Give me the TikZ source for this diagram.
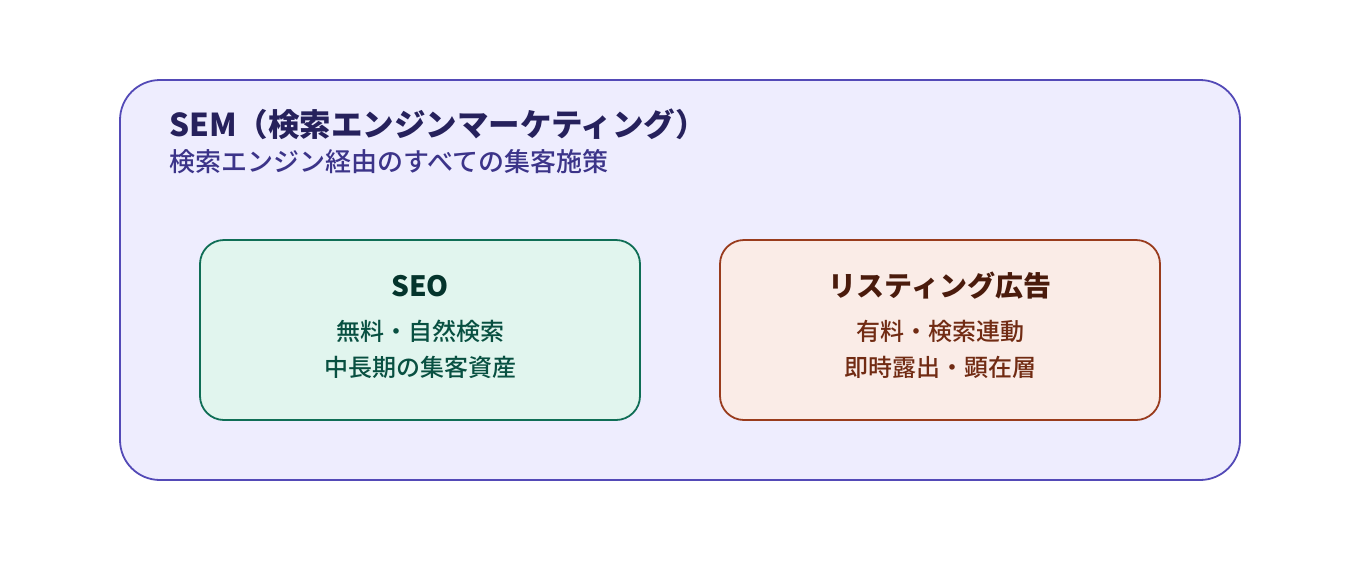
\documentclass[tikz,border=0pt]{standalone}
\usepackage{fontspec}
\setmainfont{Noto Sans CJK JP}
\newfontfamily\jpmed{Noto Sans CJK JP Medium}
\definecolor{outerfill}{HTML}{EEEDFE}
\definecolor{outerdraw}{HTML}{534AB7}
\definecolor{titlecol}{HTML}{26215C}
\definecolor{subcol}{HTML}{3C3489}
\definecolor{gfill}{HTML}{E1F5EE}
\definecolor{gdraw}{HTML}{0F6E56}
\definecolor{ghead}{HTML}{04342C}
\definecolor{gtext}{HTML}{085041}
\definecolor{cfill}{HTML}{FAECE7}
\definecolor{cdraw}{HTML}{993C1D}
\definecolor{chead}{HTML}{4A1B0C}
\definecolor{ctext}{HTML}{712B13}
\tikzset{
  boxhead/.style={font=\bfseries\fontsize{28}{28}\selectfont, anchor=base, inner sep=0pt},
  boxline/.style={font=\jpmed\fontsize{24}{24}\selectfont, anchor=base, inner sep=0pt},
}
\begin{document}
\begin{tikzpicture}[x=1pt,y=-1pt]
\useasboundingbox (0,0) rectangle (1360,560);
\fill[white] (0,0) rectangle (1360,560);
% outer container
\draw[outerdraw, fill=outerfill, line width=1.8pt, rounded corners=40pt] (120,80) rectangle (1240,480);
\node[anchor=base west, inner sep=0pt, text=titlecol, font=\bfseries\fontsize{31.5}{31.5}\selectfont] (title) at (169,136) {SEM（検索エンジンマーケティング）};
\node[anchor=base west, inner sep=0pt, text=subcol, font=\jpmed\fontsize{26}{26}\selectfont] (sub) at (169,171) {検索エンジン経由のすべての集客施策};
% SEO box
\draw[gdraw, fill=gfill, line width=1.8pt, rounded corners=24pt] (200,240) rectangle (640,420);
\node[boxhead, text=ghead] (seo) at (420,296) {SEO};
\node[boxline, text=gtext] (seo1) at (420,340) {無料・自然検索};
\node[boxline, text=gtext] (seo2) at (420,376) {中長期の集客資産};
% Listing box
\draw[cdraw, fill=cfill, line width=1.8pt, rounded corners=24pt] (720,240) rectangle (1160,420);
\node[boxhead, text=chead] (lst) at (940,296) {リスティング広告};
\node[boxline, text=ctext] (lst1) at (940,340) {有料・検索連動};
\node[boxline, text=ctext] (lst2) at (940,376) {即時露出・顕在層};
\end{tikzpicture}
\end{document}
